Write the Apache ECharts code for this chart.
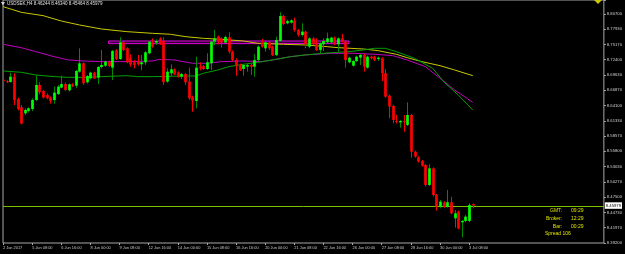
<!DOCTYPE html>
<html>
<head>
<meta charset="utf-8">
<script src="https://cdn.jsdelivr.net/npm/echarts@6/dist/echarts.min.js"></script>
<style>html,body{margin:0;padding:0;background:#000;}#c{width:625px;height:254px;}</style>
</head>
<body>
<div id="c"></div>
<script>
// ---- data ----
const symbolTitle = 'USDSEK,H4';
const tickLabels = ['2 Jun 2017','5 Jun 08:00','6 Jun 16:00','8 Jun 00:00','9 Jun 08:00','12 Jun 16:00','14 Jun 00:00','15 Jun 08:00','16 Jun 16:00','20 Jun 00:00','21 Jun 08:00','22 Jun 16:00','26 Jun 00:00','27 Jun 08:00','28 Jun 16:00','30 Jun 00:00','3 Jul 08:00'];
const barsPerTick = 8;
const totalSlots = 166; // visible bars + empty chart shift area
const yTickLabels = ['8.80700','8.77930','8.75170','8.72400','8.69630','8.66870','8.64100','8.61330','8.58570','8.55800','8.53030','8.50270','8.47500','8.44730','8.41970','8.39200'];
const priceMax = 8.8320;
const currentPrice = [8.45979];

const opens = [8.6878,8.6848,8.6836,8.6932,8.6528,8.6377,8.6268,8.6311,8.6347,8.6510,8.6781,8.6673,8.6600,8.6552,8.6510,8.6618,8.6733,8.6799,8.6685,8.6793,8.6769,8.7023,8.7174,8.6830,8.6902,8.7005,8.6914,8.7107,8.7131,8.7204,8.7095,8.7409,8.7252,8.7554,8.7445,8.7264,8.7192,8.7216,8.7156,8.7192,8.7355,8.7554,8.7548,8.7626,8.7578,8.6842,8.6993,8.7065,8.7011,8.6932,8.6981,8.6842,8.6558,8.6492,8.7113,8.7125,8.7071,8.7174,8.7566,8.7657,8.7626,8.7548,8.7645,8.7385,8.7234,8.7144,8.7071,8.7113,8.7144,8.7113,8.7234,8.7566,8.7445,8.7554,8.7475,8.7325,8.7578,8.8031,8.7898,8.7910,8.7946,8.7777,8.7687,8.7747,8.7475,8.7626,8.7548,8.7415,8.7518,8.7554,8.7554,8.7638,8.7518,8.7626,8.7566,8.7192,8.7131,8.7216,8.7276,8.7325,8.7095,8.7294,8.7294,8.7252,8.7264,8.6993,8.6588,8.6401,8.6129,8.6105,8.6129,8.6057,8.6238,8.5574,8.5471,8.5405,8.5333,8.4971,8.5272,8.4789,8.4578,8.4657,8.4578,8.4657,8.4367,8.4488,8.4295,8.4319,8.4319,8.46244];
const closes = [8.6848,8.6836,8.6932,8.6510,8.6347,8.6081,8.6329,8.6359,8.6510,8.6781,8.6649,8.6552,8.6540,8.6492,8.6643,8.6751,8.6799,8.6691,8.6793,8.6763,8.7035,8.7174,8.6812,8.6944,8.7005,8.6902,8.7107,8.7144,8.7204,8.7125,8.7397,8.7252,8.7554,8.7415,8.7192,8.7156,8.7144,8.7156,8.7192,8.7373,8.7566,8.7475,8.7578,8.7518,8.6830,8.7023,8.7065,8.6974,8.6932,8.6981,8.6830,8.6540,8.6498,8.7095,8.7083,8.7071,8.7192,8.7566,8.7626,8.7578,8.7548,8.7651,8.7385,8.7234,8.7131,8.7053,8.7144,8.7144,8.7113,8.7234,8.7475,8.7475,8.7554,8.7445,8.7325,8.7596,8.8031,8.7886,8.7940,8.7952,8.7777,8.7687,8.7747,8.7518,8.7626,8.7518,8.7415,8.7536,8.7578,8.7626,8.7638,8.7518,8.7626,8.7566,8.7234,8.7276,8.7216,8.7294,8.7325,8.7113,8.7294,8.7264,8.7234,8.7276,8.6993,8.6570,8.6389,8.6148,8.6117,8.6129,8.6111,8.6238,8.5574,8.5484,8.5393,8.5321,8.4971,8.5272,8.4789,8.4578,8.4669,8.4578,8.4657,8.4458,8.4458,8.4186,8.4319,8.4397,8.4608,8.45979];
const lows = [8.6830,8.6818,8.6824,8.6419,8.6323,8.6069,8.6238,8.6286,8.6311,8.6492,8.6612,8.6540,8.6522,8.6443,8.6443,8.6600,8.6721,8.6673,8.6661,8.6745,8.6721,8.7005,8.6781,8.6805,8.6884,8.6890,8.6799,8.7083,8.7113,8.7107,8.6872,8.7234,8.7234,8.7397,8.7174,8.7113,8.7083,8.7131,8.7047,8.7144,8.7337,8.7457,8.7506,8.7506,8.6781,8.6824,8.6932,8.6962,8.6914,8.6890,8.6781,8.6510,8.6298,8.6359,8.7047,8.7053,8.7053,8.7053,8.7506,8.7518,8.7457,8.7530,8.7355,8.7216,8.6950,8.7035,8.6950,8.7023,8.6962,8.6932,8.7216,8.7457,8.7385,8.7415,8.7306,8.7306,8.7566,8.7868,8.7880,8.7892,8.7747,8.7657,8.7657,8.7445,8.7445,8.7500,8.7397,8.7355,8.7397,8.7536,8.7536,8.7500,8.7385,8.7548,8.7095,8.7174,8.7113,8.7198,8.7144,8.7023,8.7077,8.7246,8.7216,8.7216,8.6854,8.6552,8.6178,8.6087,8.6087,8.6009,8.5936,8.6039,8.5465,8.5465,8.5375,8.5303,8.4940,8.4952,8.4759,8.4506,8.4548,8.4560,8.4560,8.4439,8.4198,8.4168,8.4023,8.4295,8.4295,8.45464];
const highs = [8.6902,8.6872,8.7005,8.6993,8.6552,8.6419,8.6359,8.6377,8.6540,8.6950,8.6830,8.6691,8.6630,8.6570,8.6751,8.6781,8.6950,8.6824,8.6812,8.6812,8.7053,8.7445,8.7192,8.6962,8.7023,8.7023,8.7125,8.7415,8.7222,8.7222,8.7415,8.7427,8.7645,8.7578,8.7463,8.7337,8.7234,8.7325,8.7325,8.7397,8.7578,8.7626,8.7608,8.7645,8.7645,8.7083,8.7156,8.7083,8.7029,8.6999,8.6999,8.7095,8.6588,8.7294,8.7192,8.7144,8.7355,8.7578,8.7777,8.7675,8.7645,8.7675,8.7735,8.7403,8.7264,8.7168,8.7162,8.7162,8.7162,8.7337,8.7494,8.7614,8.7578,8.7578,8.7494,8.7657,8.8097,8.8049,8.7964,8.7970,8.8001,8.7795,8.7898,8.7765,8.7645,8.7645,8.7626,8.7554,8.7626,8.7729,8.7657,8.7657,8.7645,8.7705,8.7584,8.7294,8.7234,8.7313,8.7343,8.7343,8.7313,8.7313,8.7313,8.7294,8.7282,8.7071,8.6606,8.6419,8.6238,8.6148,8.6238,8.6467,8.6256,8.5592,8.5490,8.5423,8.5351,8.5345,8.5290,8.4808,8.4699,8.4675,8.4880,8.4759,8.4518,8.4506,8.4337,8.4427,8.4639,8.46340];

// moving averages read at sample bars: [bar, value]
const maYellow = [[0,8.8200],[5,8.8097],[11,8.8037],[16,8.7940],[21,8.7868],[27,8.7795],[34,8.7747],[41,8.7717],[46,8.7699],[50,8.7657],[55,8.7626],[60,8.7608],[66,8.7578],[70,8.7536],[77,8.7518],[83,8.7506],[89,8.7475],[92,8.7457],[99,8.7433],[103,8.7403],[108,8.7337],[111,8.7276],[115,8.7204],[120,8.7131],[124,8.7053],[129,8.6950]];
const maMagenta = [[0,8.7518],[5,8.7457],[9,8.7385],[14,8.7294],[18,8.7234],[22,8.7216],[27,8.7204],[34,8.7204],[41,8.7216],[43,8.7246],[47,8.7234],[52,8.7174],[56,8.7174],[60,8.7204],[66,8.7216],[71,8.7204],[74,8.7234],[79,8.7294],[83,8.7325],[90,8.7355],[96,8.7355],[102,8.7337],[107,8.7313],[111,8.7234],[116,8.7113],[120,8.6902],[124,8.6691],[129,8.6467]];
const maGreen = [[0,8.7035],[5,8.7011],[9,8.6962],[14,8.6932],[18,8.6920],[23,8.6920],[27,8.6932],[34,8.6950],[37,8.6932],[41,8.6932],[50,8.6944],[53,8.6944],[55,8.6993],[59,8.7053],[62,8.7113],[66,8.7156],[70,8.7192],[74,8.7234],[79,8.7294],[83,8.7325],[88,8.7355],[92,8.7373],[95,8.7385],[99,8.7415],[102,8.7445],[105,8.7445],[108,8.7385],[113,8.7264],[118,8.7083],[121,8.6842],[125,8.6600],[129,8.6329]];

// drawn rectangle object: [fromBar, toBar, lowPrice, highPrice]
const rectObject = [29, 95, 8.7530, 8.7578];

const infoLabels = ['GMT:', 'Broker:', 'Bar:'];
const infoValues = ['09:29', '12:29', '00:29'];
const spreadText = 'Spread 106';
const headerOHLC = ['8.46244','8.46340','8.45464','8.45979'];

// ---- build ----
const priceMin = parseFloat(yTickLabels[yTickLabels.length - 1]);
const labelStep = (parseFloat(yTickLabels[0]) - priceMin) / (yTickLabels.length - 1);
const labelMax = (priceMax - priceMin) / labelStep;

const categories = Array.from({length: totalSlots}, (_, i) => String(i));
const candleData = opens.map((o, i) => [i, o, closes[i], lows[i], highs[i]]);
const bidLine = [[0, currentPrice[0]], [totalSlots - 1, currentPrice[0]]];

const FONT = 'Liberation Sans';
const BULL = '#00ff00', BULL_WICK = '#008a00', BEAR = '#ff0000';
const BID = '#78c000';

function renderCandle(params, api) {
  const i = api.value(0), o = api.value(1), c = api.value(2), l = api.value(3), h = api.value(4);
  const pO = api.coord([i, o]), pC = api.coord([i, c]), pL = api.coord([i, l]), pH = api.coord([i, h]);
  const w = api.size([1, 0])[0] * 0.74;
  const up = c >= o;
  const x = Math.round(pO[0]) + 0.5;
  const top = Math.min(pO[1], pC[1]), bot = Math.max(pO[1], pC[1]);
  return {
    type: 'group',
    children: [
      {type: 'line', shape: {x1: x, y1: pH[1], x2: x, y2: pL[1]}, style: {stroke: up ? BULL_WICK : BEAR, lineWidth: 1}},
      {type: 'rect', shape: {x: x - w / 2, y: top, width: w, height: Math.max(bot - top, 1)}, style: {fill: up ? BULL : BEAR}}
    ]
  };
}

function renderBid(params, api) {
  const a = api.coord([api.value(0), api.value(1)]);
  const b = api.coord([api.value(2), api.value(1)]);
  const y = Math.round(a[1]) + 0.5;
  return {type: 'line', shape: {x1: a[0], y1: y, x2: b[0], y2: y}, style: {stroke: BID, lineWidth: 1}};
}

const chart = echarts.init(document.getElementById('c'), null, {renderer: 'canvas'});
chart.setOption({
  backgroundColor: '#000000',
  animation: false,
  grid: {left: 1, right: 18, top: 0, bottom: 11, show: true, borderColor: '#a8a8a8', borderWidth: 1, backgroundColor: 'transparent', containLabel: false},
  xAxis: {
    type: 'category',
    data: categories,
    boundaryGap: false,
    axisLine: {show: false},
    axisTick: {show: true, length: 2, lineStyle: {color: '#a8a8a8'},
      interval: (idx) => idx % barsPerTick === 0 && idx / barsPerTick < tickLabels.length},
    axisLabel: {
      show: true, color: '#c8c8c8', fontSize: 3.9, fontFamily: FONT, align: 'left', margin: 3,
      interval: (idx) => idx % barsPerTick === 0 && idx / barsPerTick < tickLabels.length,
      formatter: (v, idx) => (idx % barsPerTick === 0 && tickLabels[idx / barsPerTick]) ? tickLabels[idx / barsPerTick] : ''
    },
    splitLine: {show: false}
  },
  yAxis: [
    {type: 'value', min: priceMin, max: priceMax, position: 'right', show: false, scale: true},
    {type: 'value', min: 0, max: labelMax, interval: 1, position: 'right',
      axisLine: {show: false}, splitLine: {show: false},
      axisTick: {show: true, length: 2, lineStyle: {color: '#a8a8a8'}},
      axisLabel: {color: '#d0d0d0', fontSize: 4.2, fontFamily: FONT, margin: 3,
        formatter: (v) => { const k = yTickLabels.length - 1 - Math.round(v); return (Math.abs(v - Math.round(v)) < 1e-6 && yTickLabels[k]) ? yTickLabels[k] : ''; }}
    }
  ],
  series: [
    {type: 'custom', name: 'Bid', data: [[0, currentPrice[0], totalSlots - 1]], yAxisIndex: 0, renderItem: renderBid,
      encode: {x: [0, 2], y: 1}, clip: false, z: 1, silent: true},
    {type: 'line', name: 'BidLabel', data: bidLine, yAxisIndex: 0, showSymbol: false, symbol: 'none',
      lineStyle: {width: 0, opacity: 0}, z: 5, silent: true,
      endLabel: {show: true, distance: 1, formatter: () => currentPrice[0].toFixed(5),
        backgroundColor: '#ffffff', color: '#000000', fontSize: 4.2, fontFamily: FONT, padding: [1.5, 1, 1, 1]}
    },
    {type: 'line', name: 'MA slow', data: maYellow, yAxisIndex: 0, showSymbol: false, symbol: 'none',
      lineStyle: {color: '#c8c800', width: 1}, z: 2, silent: true,
      markArea: {silent: true, itemStyle: {color: 'rgba(120,0,120,0.45)', borderColor: '#e000e0', borderWidth: 1},
        data: [[{xAxis: rectObject[0], yAxis: rectObject[2]}, {xAxis: rectObject[1], yAxis: rectObject[3]}]]}
    },
    {type: 'line', name: 'MA mid', data: maMagenta, yAxisIndex: 0, showSymbol: false, symbol: 'none',
      lineStyle: {color: '#c000c0', width: 1}, z: 2, silent: true},
    {type: 'line', name: 'MA fast', data: maGreen, yAxisIndex: 0, showSymbol: false, symbol: 'none',
      lineStyle: {color: '#00a000', width: 1}, z: 2, silent: true},
    {type: 'custom', name: 'USDSEK', data: candleData, yAxisIndex: 0, renderItem: renderCandle,
      encode: {x: 0, y: [1, 2, 3, 4]}, clip: true, z: 3, silent: true}
  ],
  graphic: [
    {type: 'polygon', shape: {points: [[1, 2], [5, 2], [3, 5.5]]}, style: {fill: '#d0d0d0'}},
    {type: 'text', left: 7, top: 1.5, style: {text: symbolTitle + ' ' + headerOHLC.join(' '), fill: '#e0e0e0', font: '4.5px ' + FONT}},
    {type: 'polygon', shape: {points: [[594, 0], [602, 0], [598, 4]]}, style: {fill: '#c8c800'}},
    ...infoLabels.map((t, k) => ({type: 'text', x: 562, y: 210.5 + k * 8, style: {text: t, fill: '#e0e000', font: '5px ' + FONT, textAlign: 'right', textVerticalAlign: 'middle'}})),
    ...infoValues.map((t, k) => ({type: 'text', x: 571, y: 210.5 + k * 8, style: {text: t, fill: '#e0e000', font: '5px ' + FONT, textAlign: 'left', textVerticalAlign: 'middle'}})),
    {type: 'text', x: 545, y: 234, style: {text: spreadText, fill: '#e0e000', font: '5px ' + FONT, textAlign: 'left', textVerticalAlign: 'middle'}}
  ]
});
</script>
</body>
</html>
